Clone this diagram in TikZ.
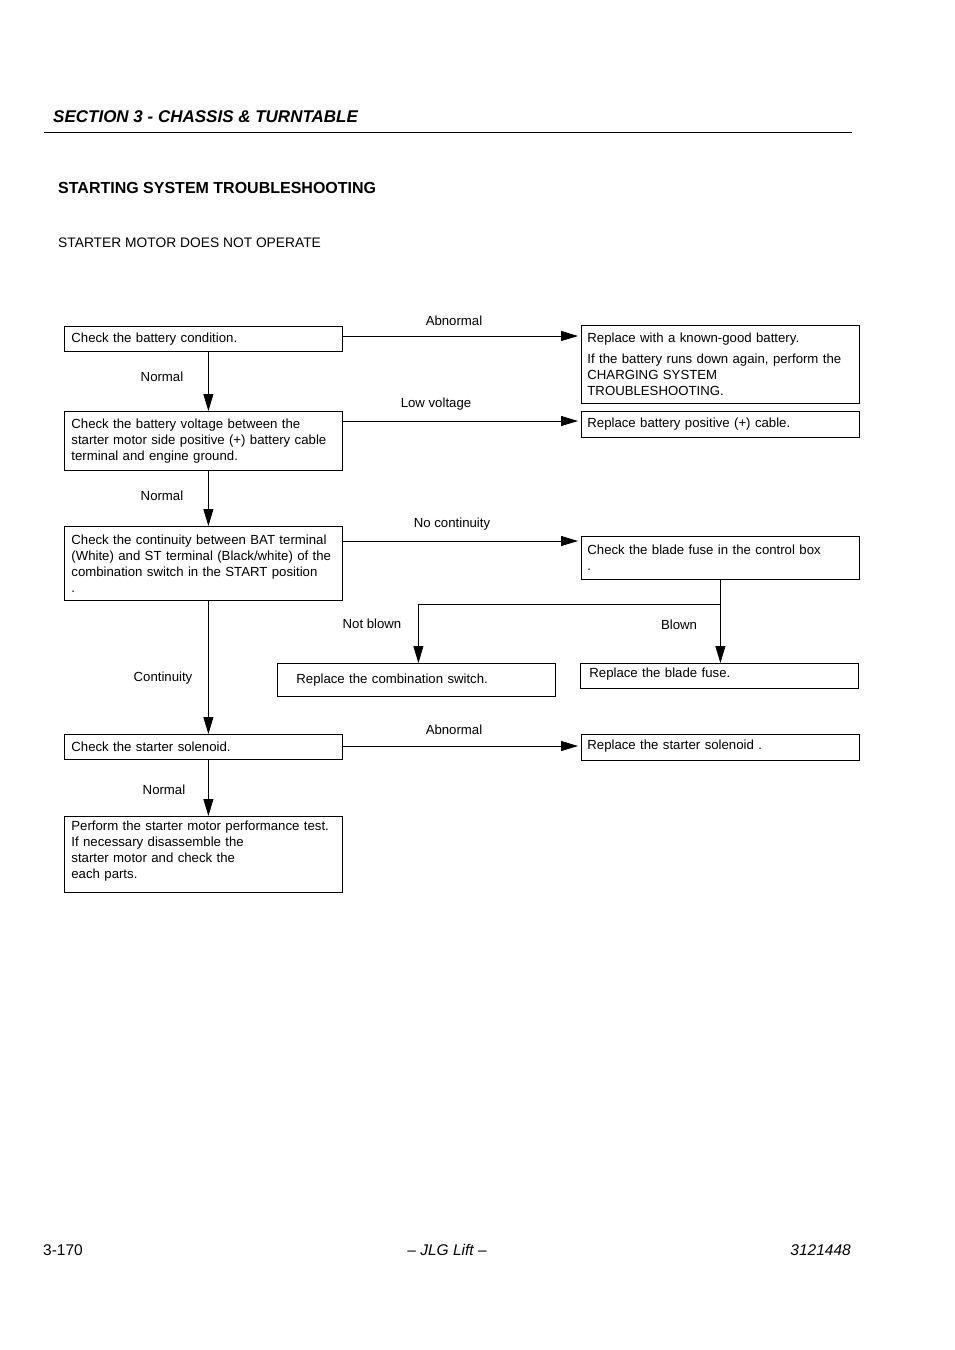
\documentclass[tikz,border=0pt]{standalone}
\usepackage{fontspec}
\setmainfont{Liberation Sans}
\usetikzlibrary{arrows.meta,calc}
\newcommand{\myfont}{\fontsize{13.2}{16}\selectfont}
\begin{document}
\begin{tikzpicture}[x=1pt,y=-1pt,
  wbox/.style={draw, line width=0.8pt, rectangle, anchor=north west, inner xsep=7pt, inner ysep=1pt,
    text width=264pt, align=left, font=\myfont},
  arr/.style={-{Triangle[length=17pt,width=10pt]}, line width=0.8pt},
  lbl/.style={font=\myfont, inner sep=0pt},
  hd/.style={inner sep=0pt, anchor=west}]
\fill[white] (0,0) rectangle (954,1350);
\useasboundingbox (0,0) rectangle (954,1350);

% header
\node[hd, font=\fontsize{17}{20}\selectfont\bfseries\itshape] (sec) at (53,117) {SECTION 3 - CHASSIS \& TURNTABLE};
\draw[line width=0.9pt] (44,132) -- (852,132);
\node[hd, font=\fontsize{16}{19}\selectfont\bfseries] (title) at (58,188) {STARTING SYSTEM TROUBLESHOOTING};
\node[hd, font=\fontsize{13.8}{16}\selectfont] (sub) at (58,243) {STARTER MOTOR DOES NOT OPERATE};

% boxes
\node[wbox, minimum height=25pt] (b1) at (64,326) {Check the battery condition.};
\node[wbox, minimum height=78pt, inner xsep=6pt, text width=266pt] (r1) at (581,325) {Replace with a known-good battery.\\[5pt]If the battery runs down again, perform the\\CHARGING SYSTEM\\TROUBLESHOOTING.};
\node[wbox, minimum height=59pt] (b2) at (64,411) {Check the battery voltage between the\\starter motor side positive (+) battery cable\\terminal and engine ground.};
\node[wbox, minimum height=26pt, inner xsep=6pt, text width=266pt] (r2) at (581,411) {Replace battery positive (+) cable.};
\node[wbox, minimum height=74pt] (b3) at (64,526) {Check the continuity between BAT terminal\\(White) and ST terminal (Black/white) of the\\combination switch in the START position\\.};
\node[wbox, minimum height=43pt, inner xsep=6pt, text width=266pt] (r3) at (581,536) {Check the blade fuse in the control box\\.};
\node[wbox, minimum height=33pt] (r4a) at (277,663) {\hspace*{12pt}Replace the combination switch.};
\node[wbox, minimum height=25pt, text depth=7pt] (r4b) at (580,663) {\hspace*{2pt}Replace the blade fuse.};
\node[wbox, minimum height=25pt] (b4) at (64,734) {Check the starter solenoid.};
\node[wbox, minimum height=26pt, inner xsep=6pt, text width=266pt, text depth=5pt] (r5) at (581,734) {Replace the starter solenoid .};
\node[wbox, minimum height=76pt] (b5) at (64,816) {Perform the starter motor performance test.\\If necessary disassemble the\\starter motor and check the\\each parts.\\[-6pt]\mbox{}};

% horizontal connectors
\draw[arr, shorten >=3pt] ([yshift=-10pt]b1.north east) -- ([yshift=-10pt]b1.north east -| r1.west);
\draw[arr, shorten >=3pt] ([yshift=-10pt]b2.north east) -- ([yshift=-10pt]b2.north east -| r2.west);
\draw[arr, shorten >=3pt] ([yshift=-15pt]b3.north east) -- ([yshift=-15pt]b3.north east -| r3.west);
\draw[arr, shorten >=3pt] ([yshift=-12pt]b4.north east) -- ([yshift=-12pt]b4.north east -| r5.west);

% vertical connectors
\draw[arr] ([xshift=5pt]b1.south) -- ([xshift=5pt]b2.north);
\draw[arr] ([xshift=5pt]b2.south) -- ([xshift=5pt]b3.north);
\draw[arr] ([xshift=5pt]b3.south) -- ([xshift=5pt]b4.north);
\draw[arr] ([xshift=5pt]b4.south) -- ([xshift=5pt]b5.north);

% fuse branch
\coordinate (j) at ($(r3.south)+(0,25)$);
\draw[arr] (r3.south) -- (r3.south |- r4b.north);
\draw[arr] (j) -| ([xshift=2pt]r4a.north);

% labels
\node[lbl] (l1) at (454,321) {Abnormal};
\node[lbl] (l2) at (436,404) {Low voltage};
\node[lbl] (l3) at (452,524) {No continuity};
\node[lbl] (l4) at (454,730) {Abnormal};
\node[lbl] (l5) at (162,377) {Normal};
\node[lbl] (l6) at (162,496) {Normal};
\node[lbl] (l7) at (163,678) {Continuity};
\node[lbl] (l8) at (164,790) {Normal};
\node[lbl] (l9) at (372,624) {Not blown};
\node[lbl] (l10) at (679,625) {Blown};

% footer
\node[hd, font=\fontsize{15.5}{18}\selectfont] (pg) at (43,1250) {3-170};
\node[inner sep=0pt, font=\fontsize{15.5}{18}\selectfont\itshape] (jlg) at (447,1250) {-- JLG Lift --};
\node[inner sep=0pt, anchor=east, font=\fontsize{15.5}{18}\selectfont\itshape] (doc) at (851,1250) {3121448};
\end{tikzpicture}
\end{document}
